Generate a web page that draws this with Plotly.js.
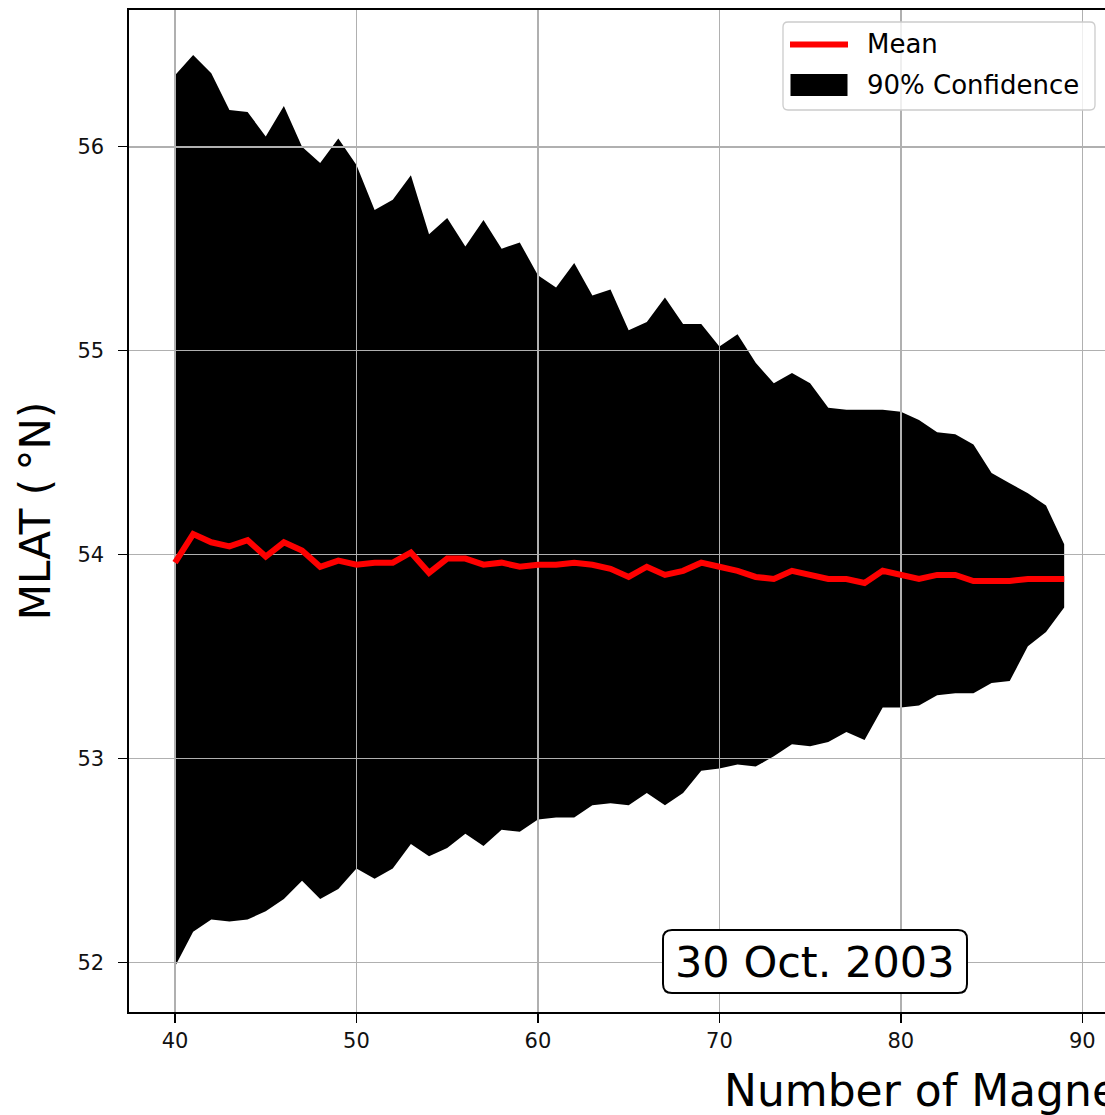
<!DOCTYPE html>
<html>
<head>
<meta charset="utf-8">
<script src="https://cdn.plot.ly/plotly-3.0.1.min.js"></script>
<style>html,body{margin:0;padding:0;background:#fff;overflow:hidden}</style>
</head>
<body>
<div id="chart" style="width:1105px;height:1115px"></div>
<script>
// Number of magnetometers used in the fit
const nMag = [40, 41, 42, 43, 44, 45, 46, 47, 48, 49,
              50, 51, 52, 53, 54, 55, 56, 57, 58, 59,
              60, 61, 62, 63, 64, 65, 66, 67, 68, 69,
              70, 71, 72, 73, 74, 75, 76, 77, 78, 79,
              80, 81, 82, 83, 84, 85, 86, 87, 88, 89];

// Upper edge of the 90% confidence band (MLAT, deg N)
const upper90 = [56.35, 56.45, 56.36, 56.18, 56.17, 56.05, 56.20, 56.00, 55.92, 56.04,
                 55.91, 55.69, 55.74, 55.86, 55.57, 55.65, 55.51, 55.64, 55.50, 55.53,
                 55.37, 55.31, 55.43, 55.27, 55.30, 55.10, 55.14, 55.26, 55.13, 55.13,
                 55.02, 55.08, 54.94, 54.84, 54.89, 54.84, 54.72, 54.71, 54.71, 54.71,
                 54.70, 54.66, 54.60, 54.59, 54.54, 54.40, 54.35, 54.30, 54.24, 54.05];

// Lower edge of the 90% confidence band (MLAT, deg N)
const lower90 = [51.98, 52.15, 52.21, 52.20, 52.21, 52.25, 52.31, 52.40, 52.31, 52.36,
                 52.46, 52.41, 52.46, 52.58, 52.52, 52.56, 52.63, 52.57, 52.65, 52.64,
                 52.70, 52.71, 52.71, 52.77, 52.78, 52.77, 52.83, 52.77, 52.83, 52.94,
                 52.95, 52.97, 52.96, 53.01, 53.07, 53.06, 53.08, 53.13, 53.09, 53.25,
                 53.25, 53.26, 53.31, 53.32, 53.32, 53.37, 53.38, 53.55, 53.62, 53.74];

// Mean boundary latitude (MLAT, deg N)
const meanLat = [53.96, 54.10, 54.06, 54.04, 54.07, 53.99, 54.06, 54.02, 53.94, 53.97,
                 53.95, 53.96, 53.96, 54.01, 53.91, 53.98, 53.98, 53.95, 53.96, 53.94,
                 53.95, 53.95, 53.96, 53.95, 53.93, 53.89, 53.94, 53.90, 53.92, 53.96,
                 53.94, 53.92, 53.89, 53.88, 53.92, 53.90, 53.88, 53.88, 53.86, 53.92,
                 53.90, 53.88, 53.90, 53.90, 53.87, 53.87, 53.87, 53.88, 53.88, 53.88];

const xTicks = [40, 50, 60, 70, 80, 90];
const yTicks = [52, 53, 54, 55, 56];
const eventLabel = '30 Oct. 2003';

const FONT = 'DejaVu Sans, Verdana, sans-serif';
const XRANGE = [37.465, 91.25];
const YRANGE = [51.7563, 56.6704];

// plot-area geometry (px) for placing the decorations
const PLOT = {l: 129, t: 10, w: 976, h: 1002};
const px = x => (x - PLOT.l) / PLOT.w;
const py = y => (PLOT.t + PLOT.h - y) / PLOT.h;
function roundBox(x0, y0, x1, y1, r) {
  const p = (x, y) => px(x) + ',' + py(y);
  return 'M' + p(x0 + r, y0) + ' L' + p(x1 - r, y0) + ' Q' + p(x1, y0) + ' ' + p(x1, y0 + r) +
         ' L' + p(x1, y1 - r) + ' Q' + p(x1, y1) + ' ' + p(x1 - r, y1) +
         ' L' + p(x0 + r, y1) + ' Q' + p(x0, y1) + ' ' + p(x0, y1 - r) +
         ' L' + p(x0, y0 + r) + ' Q' + p(x0, y0) + ' ' + p(x0 + r, y0) + ' Z';
}

// band lives on the lower subplot, so the grid of the upper one is drawn over it
const traces = [
  {x: nMag, y: lower90, type: 'scatter', mode: 'lines', line: {width: 0, color: 'black'},
   xaxis: 'x', yaxis: 'y', showlegend: false, hoverinfo: 'skip'},
  {x: nMag, y: upper90, type: 'scatter', mode: 'lines', line: {width: 0, color: 'black'},
   fill: 'tonexty', fillcolor: 'black', name: '90% Confidence',
   xaxis: 'x', yaxis: 'y', showlegend: false},
  {x: nMag, y: meanLat, type: 'scatter', mode: 'lines', line: {width: 6, color: '#ff0000'},
   name: 'Mean', xaxis: 'x2', yaxis: 'y2', showlegend: false}
];

const axisStyle = {
  showgrid: true, gridcolor: '#b0b0b0', gridwidth: 1.6, zeroline: false,
  ticks: 'outside', ticklen: 9, tickwidth: 1.5, tickcolor: 'black',
  showline: true, linecolor: 'black', linewidth: 1.6,
  tickfont: {family: FONT, size: 21, color: '#111'}
};

const layout = {
  width: 1105, height: 1115,
  margin: {l: PLOT.l, r: 0, t: PLOT.t, b: 1115 - PLOT.t - PLOT.h},
  paper_bgcolor: 'white', plot_bgcolor: 'rgba(0,0,0,0)',
  showlegend: false,
  xaxis: {domain: [0, 1], range: XRANGE, visible: false, anchor: 'y'},
  yaxis: {domain: [0, 1], range: YRANGE, visible: false, anchor: 'x'},
  xaxis2: Object.assign({}, axisStyle, {domain: [0, 1], range: XRANGE, anchor: 'y2',
    tickvals: xTicks, mirror: true, ticklabelstandoff: 0}),
  yaxis2: Object.assign({}, axisStyle, {domain: [0, 1], range: YRANGE, anchor: 'x2',
    tickvals: yTicks, mirror: false, ticklabelstandoff: 10,
    title: {text: 'MLAT (\u2009°N)', font: {family: FONT, size: 42, color: '#000'}, standoff: 14}}),
  shapes: [
    // legend frame
    {type: 'path', xref: 'paper', yref: 'paper', layer: 'above',
     path: roundBox(783, 22, 1095, 110, 5),
     fillcolor: 'rgba(255,255,255,0.8)', line: {color: '#cccccc', width: 1.3}},
    {type: 'line', xref: 'paper', yref: 'paper', layer: 'above',
     x0: px(790), x1: px(848), y0: py(44.5), y1: py(44.5), line: {color: '#ff0000', width: 6}},
    {type: 'rect', xref: 'paper', yref: 'paper', layer: 'above',
     x0: px(790.5), x1: px(847.5), y0: py(74), y1: py(96), fillcolor: 'black', line: {width: 0}},
    // date box
    {type: 'path', xref: 'paper', yref: 'paper', layer: 'above',
     path: roundBox(663, 930, 967, 993, 9),
     fillcolor: 'white', line: {color: 'black', width: 2}}
  ],
  annotations: [
    {text: 'Mean', xref: 'paper', yref: 'paper', x: px(865), y: py(44), xanchor: 'left', yanchor: 'middle',
     showarrow: false, font: {family: FONT, size: 26, color: '#000'}},
    {text: '90% Confidence', xref: 'paper', yref: 'paper', x: px(865), y: py(85), xanchor: 'left', yanchor: 'middle',
     showarrow: false, font: {family: FONT, size: 26, color: '#000'}},
    {text: eventLabel, xref: 'paper', yref: 'paper', x: px(815), y: py(961.5), xanchor: 'center', yanchor: 'middle',
     showarrow: false, font: {family: FONT, size: 43, color: '#000'}},
    {text: 'Number of Magnetometers', xref: 'paper', yref: 'paper', x: px(722), y: py(1090),
     xanchor: 'left', yanchor: 'middle', showarrow: false, font: {family: FONT, size: 44, color: '#000'}}
  ]
};

Plotly.newPlot('chart', traces, layout, {staticPlot: true, displayModeBar: false});
</script>
</body>
</html>
